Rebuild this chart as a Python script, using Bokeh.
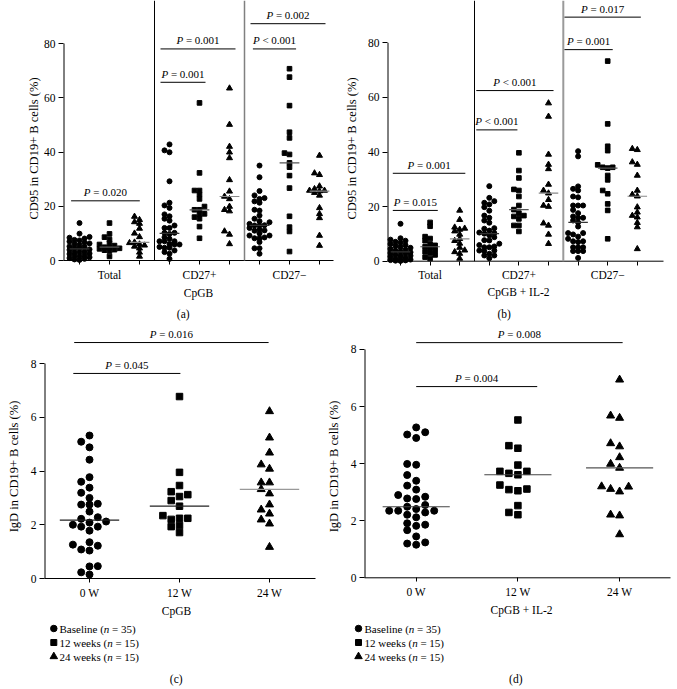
import numpy as np
from bokeh.plotting import figure
from bokeh.models import Range1d, FixedTicker
from bokeh.layouts import column, row
from bokeh.embed import file_html
from bokeh.resources import INLINE
from bokeh.core.properties import value

FONT = "Liberation Serif"

# ======================= DATA =======================
group_labels = ["Total", "CD27+", "CD27\u2212"]
time_labels = ["0 W", "12 W", "24 W"]
legend_names = ["Baseline", "12 weeks", "24 weeks"]
legend_n = ["35", "15", "15"]
ytitle_ab = "CD95 in CD19+ B cells (%)"
ytitle_cd = "IgD in CD19+ B cells (%)"
xtitle_a = "CpGB"
xtitle_b = "CpGB + IL-2"
yticks_ab = [0, 20, 40, 60, 80]
yticks_cd = [0, 2, 4, 6, 8]

# (a) CD95, CpGB
a_total_base = [13.8, 9.9, 8.7, 8.4, 8.1, 7.6, 7.4, 7.0, 6.6, 6.3, 6.1, 5.7, 5.2, 5.0, 4.6, 4.3,
                4.1, 3.9, 3.4, 3.1, 2.9, 2.6, 2.4, 2.0, 1.7, 1.5, 1.2, 0.9, 0.6, 0.4, 0.2]
a_total_w12 = [13.8, 9.8, 8.6, 7.7, 6.3, 5.9, 5.5, 4.9, 4.7, 4.5, 4.3, 4.0, 3.8, 3.5, 1.5]
a_total_w24 = [16.2, 15.0, 14.2, 13.6, 11.8, 10.0, 8.7, 6.7, 6.5, 6.0, 5.6, 5.2, 4.5, 3.0, 1.5]
a_cd27p_base = [42.8, 40.6, 39.9, 29.2, 21.3, 20.3, 19.4, 17.0, 16.3, 15.4, 14.7, 12.9, 12.0, 12.0,
                10.2, 10.2, 9.8, 8.6, 8.0, 7.1, 7.1, 7.1, 6.1, 5.9, 5.9, 5.0, 4.7, 4.7, 3.7, 3.1, 2.5, 0.6]
a_cd27p_w12 = [58.1, 32.3, 25.8, 25.8, 24.3, 22.7, 19.9, 18.7, 18.7, 17.2, 17.0, 16.0, 15.4, 12.5, 8.2]
a_cd27p_w24 = [63.5, 50.1, 42.0, 39.9, 37.8, 29.7, 25.5, 23.6, 22.7, 19.9, 18.7, 18.2, 10.8, 9.6, 6.1]
a_cd27n_base = [35.0, 30.7, 25.6, 24.0, 23.0, 22.7, 21.8, 21.3, 18.7, 18.4, 16.6, 15.4, 14.5, 14.1,
                13.5, 13.0, 12.9, 12.9, 12.0, 11.4, 11.1, 11.0, 10.0, 9.2, 9.2, 8.5, 8.2, 8.2, 6.8, 4.5, 4.5, 2.5]
a_cd27n_w12 = [70.7, 67.6, 57.1, 47.3, 45.2, 39.6, 39.1, 36.0, 34.4, 31.3, 26.7, 16.3, 12.3, 10.7, 3.3]
a_cd27n_w24 = [38.7, 32.2, 31.6, 27.4, 26.4, 25.8, 25.8, 25.6, 25.0, 24.0, 19.4, 17.2, 15.7, 9.2, 5.5]
a_pvalues = ["P = 0.020", "P = 0.001", "P = 0.001", "P < 0.001", "P = 0.002"]

# (b) CD95, CpGB + IL-2
b_total_base = [13.7, 8.4, 7.9, 7.5, 7.1, 6.8, 6.3, 5.9, 5.6, 5.2, 4.9, 4.5, 4.2, 3.9, 3.6, 3.3,
                3.0, 2.8, 2.5, 2.2, 2.0, 1.7, 1.4, 1.1, 0.9, 0.6, 0.4, 0.3, 0.2, 0.1]
b_total_w12 = [14.2, 12.8, 9.0, 8.3, 7.5, 6.3, 5.8, 5.3, 4.8, 4.0, 3.5, 3.0, 2.3, 1.5, 1.0]
b_total_w24 = [18.6, 15.2, 12.4, 12.0, 11.6, 11.0, 9.8, 8.2, 7.5, 6.5, 5.0, 4.0, 3.4, 2.8, 1.0]
b_cd27p_base = [27.5, 23.2, 22.0, 21.4, 20.8, 19.8, 18.5, 16.7, 15.9, 14.9, 14.1, 12.1, 11.9, 11.2,
                10.5, 10.3, 10.1, 9.5, 8.8, 7.7, 7.6, 6.4, 5.9, 5.4, 5.1, 5.1, 3.9, 3.9, 3.7, 2.7, 2.1, 2.1, 1.1]
b_cd27p_w12 = [39.7, 33.2, 30.5, 26.3, 25.9, 23.7, 20.4, 18.9, 17.6, 16.7, 16.4, 15.5, 13.1, 13.1, 10.9]
b_cd27p_w24 = [57.9, 53.0, 39.1, 35.4, 33.8, 28.1, 25.9, 24.9, 22.5, 20.4, 20.0, 13.9, 13.1, 9.8, 6.4]
b_cd27n_base = [40.3, 38.4, 27.4, 26.5, 25.9, 23.7, 23.4, 20.4, 20.4, 20.4, 18.8, 17.6, 16.4, 15.9,
                15.9, 14.9, 14.2, 12.7, 10.3, 10.3, 9.8, 9.0, 8.2, 7.3, 7.3, 7.0, 5.1, 5.1, 5.1, 3.7, 3.7, 3.7, 1.2]
b_cd27n_w12 = [73.3, 50.3, 42.1, 40.5, 35.3, 34.4, 34.4, 34.1, 31.4, 29.8, 25.9, 24.7, 21.0, 18.6, 8.2]
b_cd27n_w24 = [41.2, 40.8, 36.3, 35.4, 31.4, 25.9, 24.4, 23.8, 19.8, 17.9, 16.7, 16.1, 14.1, 12.5, 4.5]
b_pvalues = ["P = 0.015", "P = 0.001", "P < 0.001", "P < 0.001", "P = 0.001", "P = 0.017"]

# (c) IgD, CpGB
c_base = [5.32, 5.09, 4.88, 4.42, 3.77, 3.60, 3.38, 3.19, 3.00, 2.78, 2.75, 2.75, 2.49, 2.28, 2.22,
          2.08, 2.12, 1.93, 1.78, 1.93, 2.00, 1.26, 1.08, 1.04, 1.22, 1.35, 0.45, 0.15, 0.23, 0.46]
c_w12 = [6.77, 3.95, 3.46, 3.23, 3.12, 3.05, 2.90, 2.69, 2.34, 2.24, 2.24, 2.20, 1.97, 1.93, 1.71]
c_w24 = [6.22, 5.24, 4.68, 4.24, 4.08, 3.57, 3.57, 3.32, 3.16, 2.75, 2.56, 2.41, 2.19, 2.04, 1.17]
c_pvalues = ["P = 0.045", "P = 0.016"]

# (d) IgD, CpGB + IL-2
d_base = [5.27, 5.02, 4.90, 5.10, 3.96, 3.99, 3.60, 3.40, 3.23, 3.09, 2.90, 2.84, 2.78, 2.76, 2.55, 2.49,
          2.41, 2.29, 2.21, 2.35, 2.35, 2.35, 2.12, 1.91, 1.82, 1.67, 1.86, 1.45, 1.24, 1.16, 1.20]
d_w12 = [5.53, 4.63, 4.54, 3.95, 3.73, 3.61, 3.66, 3.73, 3.25, 3.09, 3.05, 3.11, 2.53, 2.21, 2.29]
d_w24 = [6.94, 5.60, 5.68, 4.71, 4.60, 4.22, 3.99, 3.85, 3.19, 3.02, 3.11, 3.20, 2.21, 2.18, 1.52]
d_pvalues = ["P = 0.004", "P = 0.008"]

# ======================= LAYOUT (page pixels) =======================
GEO = {
    "a": dict(left=0, right=340, top=0, bottom=321, pos1=79, ppx=30.0, y0=260.0, ppy=2.7125, axl=63, axr=333, ytop=80),
    "b": dict(left=340, right=677, top=0, bottom=321, pos1=400, ppx=29.6, y0=260.7, ppy=2.73, axl=387, axr=663, ytop=80),
    "c": dict(left=0, right=322, top=321, bottom=689, pos1=89, ppx=90.0, y0=578.0, ppy=26.875, axl=44, axr=315, ytop=8),
    "d": dict(left=322, right=677, top=321, bottom=689, pos1=415.7, ppx=101.7, y0=577.3, ppy=28.54, axl=364, axr=670, ytop=8),
}
# p-value bars: (x start, x end, y) in data units
a_bars = [(0.72, 3.01, 22.0), (3.7, 5.2, 65.7), (3.7, 6.2, 78.0), (6.78, 8.22, 78.0), (6.7, 9.2, 87.3)]
b_bars = [(0.74, 2.26, 18.6), (0.74, 3.19, 32.2), (3.56, 4.95, 48.1), (3.56, 6.17, 62.5), (6.54, 8.17, 77.5), (6.54, 9.12, 89.4)]
c_bars = [(0.82, 2.01, 7.63), (0.83, 2.99, 8.78)]
d_bars = [(1.0, 2.19, 6.70), (1.0, 3.03, 8.24)]

W_REG = {' ': 0.25, '=': 0.564, '<': 0.564, '.': 0.25, '(': 0.333, ')': 0.333, 'B': 0.667,
         'a': 0.444, 's': 0.389, 'e': 0.444, 'l': 0.278, 'i': 0.278, 'n': 0.5, 'w': 0.722, 'k': 0.5}
W_ITAL = {'P': 0.611, 'n': 0.5}


def tw(s, size, italic=False):
    table = W_ITAL if italic else W_REG
    return sum(table.get(ch, 0.5) for ch in s) * size


def conv(g):
    X = lambda px: 1 + (px - g["pos1"]) / g["ppx"]
    Y = lambda py: (g["y0"] - py) / g["ppy"]
    return X, Y


def put_text(p, x, y, s, size=11, style="normal", align="center", baseline="middle", xoff=0, angle=0.0):
    p.text(x=[x], y=[y], text=[s], angle=angle, x_offset=xoff,
           text_font=value(FONT), text_font_size=f"{size}px", text_font_style=style,
           text_align=align, text_baseline=baseline, text_color="black")


def rich(p, x, y, parts, size=11, align="center"):
    widths = [tw(t, size, it) for t, it in parts]
    off = -sum(widths) / 2 if align == "center" else 0
    for (t, it), w in zip(parts, widths):
        lead = len(t) - len(t.lstrip(" "))
        s = t.strip(" ")
        put_text(p, x, y, s, size, "italic" if it else "normal", "left", "middle",
                 off + lead * W_REG[" "] * size)
        off += w


def swarm(vals, g, step_px, dmin_px, kmax):
    v = np.asarray(vals, float)
    order = np.argsort(v, kind="stable")
    cols = [0]
    for k in range(1, kmax + 1):
        cols += [-k, k]
    placed = {}
    offs = np.zeros(len(v))
    for i in order:
        y = v[i] * g["ppy"]
        best, best_d = None, -1.0
        for k in cols:
            d = min([abs(y - py) for py in placed.get(k, [])] + [1e9])
            if d >= dmin_px:
                best = k
                break
            if d > best_d + 0.5:
                best, best_d = k, d
        placed.setdefault(best, []).append(y)
        offs[i] = best * step_px / g["ppx"]
    return offs


def base_fig(g, xticks, xlabels, yticks):
    X, Y = conv(g)
    p = figure(width=g["right"] - g["left"], height=g["bottom"] - g["top"],
               x_range=Range1d(X(g["left"]), X(g["right"])),
               y_range=Range1d(Y(g["bottom"]), Y(g["top"])),
               output_backend="svg", toolbar_location=None,
               min_border=0, min_border_left=0, min_border_right=0,
               min_border_top=0, min_border_bottom=0,
               background_fill_color="white", border_fill_color="white")
    p.outline_line_color = None
    p.xgrid.visible = False
    p.ygrid.visible = False
    xa = p.xaxis[0]
    ya = p.yaxis[0]
    xa.fixed_location = 0
    ya.fixed_location = X(g["axl"])
    xa.ticker = FixedTicker(ticks=xticks)
    xa.major_label_overrides = {t: l for t, l in zip(xticks, xlabels)}
    ya.ticker = FixedTicker(ticks=yticks)
    for ax in (xa, ya):
        ax.axis_line_color = None
        ax.major_tick_in = 0
        ax.major_tick_line_color = "black"
        ax.minor_tick_line_color = None
        ax.major_label_text_font = FONT
        ax.major_label_text_font_size = "11.5px"
        ax.major_label_text_color = "black"
    xa.major_tick_out = 4
    xa.major_label_standoff = 4
    ya.major_tick_out = 5
    ya.major_label_standoff = 3
    # axis lines
    p.segment(x0=[X(g["axl"])], y0=[0], x1=[X(g["axr"])], y1=[0], line_color="black", line_width=1)
    p.segment(x0=[X(g["axl"]) + 0.5 / g["ppx"]], y0=[0], x1=[X(g["axl"]) + 0.5 / g["ppx"]],
              y1=[g["ytop"]], line_color="black", line_width=1)
    return p


def pbar(p, g, bars, labels):
    for (x0, x1, yb), lab in zip(bars, labels):
        p.segment(x0=[x0], y0=[yb], x1=[x1], y1=[yb], line_color="black", line_width=1)
        ty = yb + 8.5 / g["ppy"]
        rich(p, (x0 + x1) / 2, ty, [(lab[0], True), (lab[1:], False)], 11)


MARKERS = ["circle", "square", "triangle"]


def group_panel(g, series, bars, plabels, sizes, step, dmin, kmax, medcols, sep2):
    X, Y = conv(g)
    ticks = list(range(1, 10))
    labels = ["", group_labels[0], "", "", group_labels[1], "", "", group_labels[2], ""]
    p = base_fig(g, ticks, labels, yticks_ab)
    ytop = Y(g["top"])
    p.segment(x0=[3.5], y0=[0], x1=[3.5], y1=[ytop], line_color="black", line_width=1)
    p.segment(x0=[6.5], y0=[0], x1=[6.5], y1=[ytop], line_color=sep2[0], line_width=sep2[1])
    for i, vals in enumerate(series):
        pos = i + 1
        m = MARKERS[i % 3]
        offs = swarm(vals, g, step, dmin, kmax)
        p.scatter(x=pos + offs, y=vals, marker=m, size=sizes[m], color="black")
        med = float(np.median(vals))
        p.segment(x0=[pos - 0.33], y0=[med], x1=[pos + 0.33], y1=[med],
                  line_color=medcols[i % 3], line_width=1.2)
    pbar(p, g, bars, plabels)
    return p


def time_panel(g, series, bars, plabels, sizes, step, dmin, kmax, medcols, leg):
    X, Y = conv(g)
    p = base_fig(g, [1, 2, 3], time_labels, yticks_cd)
    for i, vals in enumerate(series):
        pos = i + 1
        m = MARKERS[i]
        offs = swarm(vals, g, step, dmin, kmax)
        p.scatter(x=pos + offs, y=vals, marker=m, size=sizes[m], color="black")
        med = float(np.median(vals))
        p.segment(x0=[pos - 0.33], y0=[med], x1=[pos + 0.33], y1=[med],
                  line_color=medcols[i], line_width=1.2)
    pbar(p, g, bars, plabels)
    # legend
    mx, tx, rows = leg
    lsz = {"circle": 6.5, "square": 6.0, "triangle": 7.5}
    for m, name, n, ry in zip(MARKERS, legend_names, legend_n, rows):
        p.scatter(x=[X(mx)], y=[Y(ry)], marker=m, size=lsz[m], color="black")
        rich(p, X(tx), Y(ry), [(f"{name} (", False), ("n", True), (f" = {n})", False)], 11, align="left")
    return p


def titles(p, g, ytitle, ytx, yty, xtitle, xtx, xty, caption, ctx, cty):
    X, Y = conv(g)
    put_text(p, X(ytx), Y(yty), ytitle, 12.5, angle=np.pi / 2)
    put_text(p, X(xtx), Y(xty), xtitle, 11.5)
    put_text(p, X(ctx), Y(cty), caption, 11.5)


ga, gb, gc, gd = GEO["a"], GEO["b"], GEO["c"], GEO["d"]
small = {"circle": 5.0, "square": 4.6, "triangle": 6.0}
big = {"circle": 7.0, "square": 6.5, "triangle": 8.0}

pa = group_panel(ga, [a_total_base, a_total_w12, a_total_w24, a_cd27p_base, a_cd27p_w12, a_cd27p_w24,
                      a_cd27n_base, a_cd27n_w12, a_cd27n_w24],
                 a_bars, a_pvalues, small, 5.0, 3.6, 2, ["#333333", "#555555", "#888888"], ("#808080", 1.5))
titles(pa, ga, ytitle_ab, 33.5, 148, xtitle_a, 198, 292, "(a)", 182.7, 313)

pb = group_panel(gb, [b_total_base, b_total_w12, b_total_w24, b_cd27p_base, b_cd27p_w12, b_cd27p_w24,
                      b_cd27n_base, b_cd27n_w12, b_cd27n_w24],
                 b_bars, b_pvalues, small, 5.0, 3.6, 2, ["#333333", "#555555", "#888888"], ("#9a9a9a", 2))
titles(pb, gb, ytitle_ab, 351.5, 148, xtitle_b, 518, 291, "(b)", 503.7, 313)

pc = time_panel(gc, [c_base, c_w12, c_w24], c_bars, c_pvalues, big, 8.3, 6.6, 3,
                ["#222222", "#222222", "#999999"], (53.3, 59, [628, 642, 656]))
titles(pc, gc, ytitle_cd, 13.5, 466, xtitle_a, 176, 610, "(c)", 175.7, 678)

pd_ = time_panel(gd, [d_base, d_w12, d_w24], d_bars, d_pvalues, big, 9.0, 6.8, 3,
                 ["#444444", "#444444", "#555555"], (358, 364, [628, 642, 656]))
titles(pd_, gd, ytitle_cd, 333, 466, xtitle_b, 521, 609, "(d)", 515.3, 678)

layout = column(row(pa, pb), row(pc, pd_))
open("out.html", "w").write(file_html(layout, INLINE))
